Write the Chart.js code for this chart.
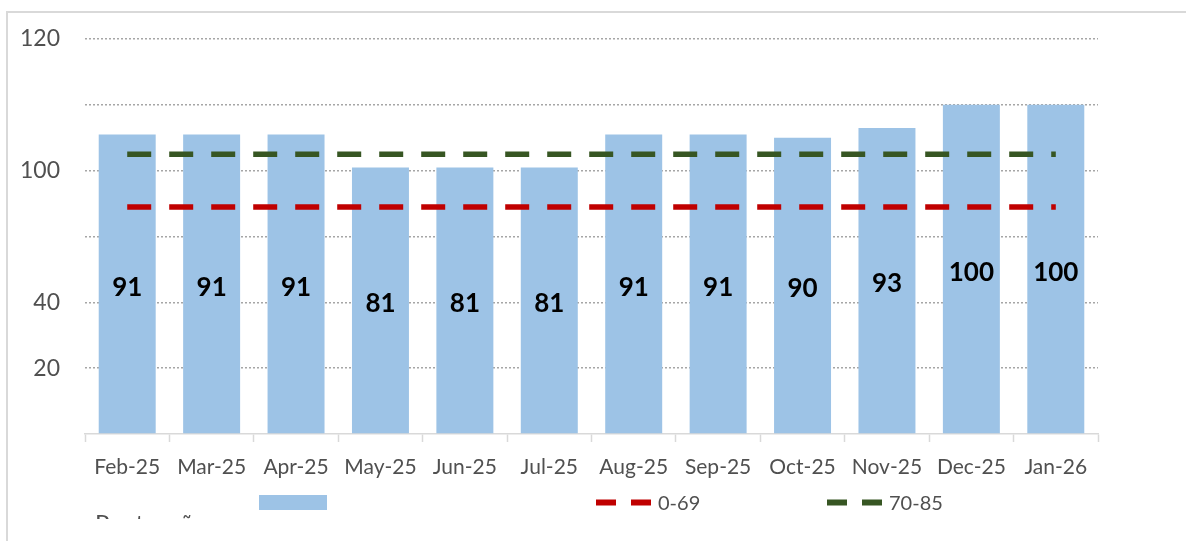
<!DOCTYPE html>
<html>
<head>
<meta charset="utf-8">
<script src="https://cdn.jsdelivr.net/npm/chart.js@4"></script>
<style>
    body { margin: 0; background: #fff; overflow: hidden; }
    #wrap { position: relative; width: 1186px; height: 541px; }
    #frame {
        position: absolute; left: 6px; top: 11px; width: 1200px; height: 560px;
        border: 2px solid #d9d9d9; box-sizing: border-box;
    }
    #chart-box { position: absolute; left: 0; top: 0; width: 1186px; height: 541px; }
</style>
</head>
<body>
<div id="wrap">
    <div id="frame"></div>
    <div id="chart-box"><canvas id="scoreChart"></canvas></div>
</div>
<script>
// Chart data
const months = ['Feb-25', 'Mar-25', 'Apr-25', 'May-25', 'Jun-25', 'Jul-25',
                'Aug-25', 'Sep-25', 'Oct-25', 'Nov-25', 'Dec-25', 'Jan-26'];
const scores = [91, 91, 91, 81, 81, 81, 91, 91, 90, 93, 100, 100];
const redLimit = [69, 69, 69, 69, 69, 69, 69, 69, 69, 69, 69, 69];
const greenLimit = [85, 85, 85, 85, 85, 85, 85, 85, 85, 85, 85, 85];
const seriesNames = ['Pontuação', '0-69', '70-85'];
// tick labels as they appear on the axis (bottom to top)
const yTickLabels = ['', '20', '40', '', '100', '', '120'];

const FONT = 'Lato, "Open Sans", sans-serif';
const GREY_TEXT = '#505050';
const BAR_BLUE = '#9dc3e6';
const LINE_RED = '#c00000';
const LINE_GREEN = '#375623';

// Values written in the middle of each bar
const barValuePlugin = {
    id: 'barValues',
    afterDatasetsDraw(chart) {
        const ctx = chart.ctx;
        const meta = chart.getDatasetMeta(2);
        ctx.save();
        ctx.font = 'bold 26px ' + FONT;
        ctx.fillStyle = '#000';
        ctx.textAlign = 'center';
        ctx.textBaseline = 'middle';
        meta.data.forEach((bar, i) => {
            const mid = (bar.y + bar.base) / 2 + 3.5;
            ctx.fillText(String(scores[i]), bar.x, mid);
        });
        ctx.restore();
    }
};

// Legend drawn by hand under the axis (first entry wraps and is cut off)
const legendPlugin = {
    id: 'sheetLegend',
    afterDraw(chart) {
        const ctx = chart.ctx;
        ctx.save();

        // bar entry
        ctx.fillStyle = BAR_BLUE;
        ctx.fillRect(259, 495, 68, 15);
        ctx.save();
        ctx.beginPath();
        ctx.rect(0, 0, chart.width, 519);
        ctx.clip();
        ctx.font = '24px ' + FONT;
        ctx.fillStyle = GREY_TEXT;
        ctx.textAlign = 'left';
        ctx.textBaseline = 'alphabetic';
        ctx.fillText(seriesNames[0], 95, 532);
        ctx.restore();

        // dashed line entries
        const entries = [
            { x: 596, color: LINE_RED, text: seriesNames[1] },
            { x: 827, color: LINE_GREEN, text: seriesNames[2] }
        ];
        entries.forEach(e => {
            ctx.strokeStyle = e.color;
            ctx.lineWidth = 6;
            ctx.setLineDash([20, 15]);
            ctx.beginPath();
            ctx.moveTo(e.x, 502.5);
            ctx.lineTo(e.x + 55, 502.5);
            ctx.stroke();
            ctx.setLineDash([]);
            ctx.font = '20px ' + FONT;
            ctx.fillStyle = GREY_TEXT;
            ctx.textBaseline = 'middle';
            ctx.fillText(e.text, e.x + 62, 504);
        });
        ctx.restore();
    }
};

function initializeChart() {
    const ctx = document.getElementById('scoreChart').getContext('2d');

    new Chart(ctx, {
        type: 'bar',
        data: {
            labels: months,
            datasets: [{
                type: 'line',
                label: seriesNames[1],
                data: redLimit,
                borderColor: LINE_RED,
                borderWidth: 5.5,
                borderDash: [24, 18],
                borderCapStyle: 'butt',
                pointRadius: 0,
                fill: false,
                order: 1
            }, {
                type: 'line',
                label: seriesNames[2],
                data: greenLimit,
                borderColor: LINE_GREEN,
                borderWidth: 5.5,
                borderDash: [24, 18],
                borderCapStyle: 'butt',
                pointRadius: 0,
                fill: false,
                order: 1
            }, {
                type: 'bar',
                label: seriesNames[0],
                data: scores,
                backgroundColor: BAR_BLUE,
                borderWidth: 0,
                categoryPercentage: 1,
                barPercentage: 0.675,
                order: 3
            }]
        },
        options: {
            responsive: true,
            maintainAspectRatio: false,
            animation: false,
            layout: {
                padding: { top: 39, left: 0, right: 88, bottom: 0 }
            },
            plugins: {
                legend: { display: false },
                title: { display: false },
                tooltip: { enabled: false }
            },
            scales: {
                x: {
                    offset: true,
                    afterFit(scale) { scale.height = 107; },
                    grid: {
                        offset: true,
                        drawOnChartArea: false,
                        drawTicks: true,
                        tickLength: 8,
                        tickColor: '#d9d9d9',
                        tickWidth: 1.5
                    },
                    border: {
                        display: true,
                        color: '#d9d9d9',
                        width: 1.5
                    },
                    ticks: {
                        color: GREY_TEXT,
                        padding: 13,
                        maxRotation: 0,
                        autoSkip: false,
                        font: { family: FONT, size: 21 }
                    }
                },
                y: {
                    min: 0,
                    max: 120,
                    afterFit(scale) { scale.width = 85; },
                    grid: {
                        color: (c) => c.tick && c.tick.value === 0 ? 'rgba(0,0,0,0)' : '#a6a6a6',
                        lineWidth: 1.5,
                        borderDash: [2, 2],
                        drawTicks: false
                    },
                    border: {
                        display: false,
                        dash: [2, 2]
                    },
                    ticks: {
                        stepSize: 20,
                        padding: 25,
                        color: GREY_TEXT,
                        font: { family: FONT, size: 23 },
                        callback: (value, index) => yTickLabels[index]
                    }
                }
            }
        },
        plugins: [barValuePlugin, legendPlugin]
    });
}

document.addEventListener('DOMContentLoaded', initializeChart);
</script>
</body>
</html>
